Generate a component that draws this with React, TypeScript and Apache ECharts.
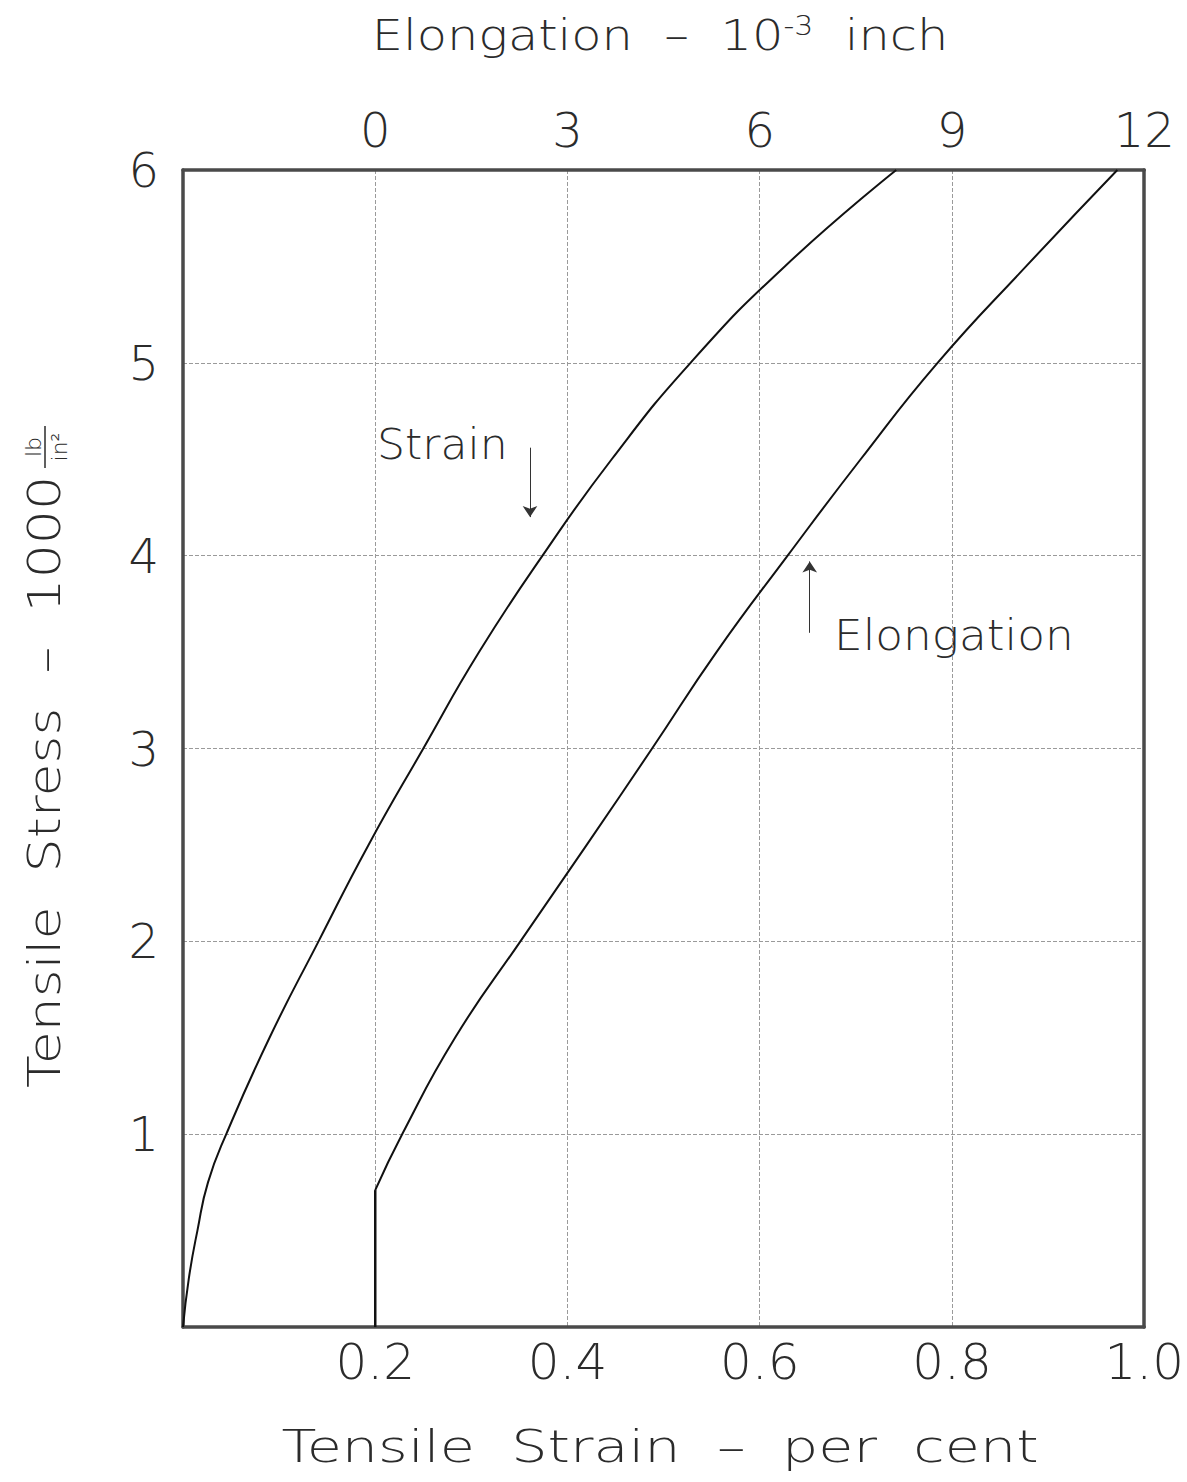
import React, { useEffect, useRef } from "react";
import * as echarts from "echarts";

// Tensile strain (per cent) vs tensile stress (1000 lb/in^2)
const strainCurve: [number, number][] = [
  [0.0, 0.0], [0.006, 0.25], [0.015, 0.5], [0.026, 0.75], [0.045, 1.0],
  [0.09, 1.5], [0.141, 2.0], [0.193, 2.5], [0.25, 3.0], [0.308, 3.5],
  [0.374, 4.0], [0.446, 4.5], [0.528, 5.0], [0.626, 5.5], [0.742, 6.0],
];
// Elongation curve plotted against the bottom strain scale (its zero sits at 0.2)
const elongationVertical: [number, number][] = [[0.2, 0.0], [0.2, 0.71]];
const elongationCurve: [number, number][] = [
  [0.2, 0.71], [0.228, 1.0], [0.283, 1.5], [0.351, 2.0], [0.42, 2.5],
  [0.488, 3.0], [0.555, 3.5], [0.629, 4.0], [0.705, 4.5], [0.785, 5.0],
  [0.877, 5.5], [0.972, 6.0],
];
const strainArrow: [number, number][] = [[0.361, 4.56], [0.361, 4.2]];
const elongationArrow: [number, number][] = [[0.652, 3.6], [0.652, 3.97]];

const FONT = "DejaVu Sans";
const INK = "#2b2b2b";

export default function App() {
  const ref = useRef<HTMLDivElement>(null);
  useEffect(() => {
    if (!ref.current) return;
    const chart = echarts.init(ref.current, undefined, { renderer: "svg" });
    const frame = { show: true, onZero: false, lineStyle: { color: "#4a4a4a", width: 3.5 } };
    const grid = { show: true, lineStyle: { color: "#9a9a9a", width: 1, type: "dashed" as const } };
    const tickLabel = { color: INK, fontFamily: FONT, fontWeight: 200 as any, fontSize: 48 };
    const arrowLine = (pts: [number, number][]) => ({
      silent: true, symbol: ["none", "arrow"], symbolSize: 11,
      label: { show: false },
      lineStyle: { color: "#333", width: 1, type: "solid" },
      data: [[{ coord: pts[0] }, { coord: pts[1] }]],
    });
    chart.setOption({
      animation: false,
      backgroundColor: "#fff",
      grid: { left: 183, right: 40, top: 170, bottom: 155 },
      xAxis: [
        {
          type: "value", min: 0, max: 1, interval: 0.2, position: "bottom",
          axisLine: frame, axisTick: { show: false }, splitLine: grid,
          axisLabel: { ...tickLabel, fontSize: 50, margin: 10,
            formatter: (v: number) => (v === 0 ? "" : v.toFixed(1)) },
        },
        {
          type: "value", min: -3, max: 12, interval: 3, position: "top",
          axisLine: frame, axisTick: { show: false }, splitLine: { show: false },
          axisLabel: { ...tickLabel, margin: 16,
            formatter: (v: number) => (v < 0 ? "" : String(v)) },
        },
      ],
      yAxis: [
        {
          type: "value", min: 0, max: 6, interval: 1, position: "left",
          axisLine: frame, axisTick: { show: false }, splitLine: grid,
          axisLabel: { ...tickLabel, margin: 24,
            formatter: (v: number) => (v === 0 ? "" : String(v)) },
        },
        {
          type: "value", min: 0, max: 6, interval: 1, position: "right",
          axisLine: frame, axisTick: { show: false }, splitLine: { show: false },
          axisLabel: { show: false },
        },
      ],
      series: [
        {
          name: "Strain", type: "line", data: strainCurve, smooth: 0.5,
          showSymbol: false, lineStyle: { color: "#111", width: 2 },
          markLine: arrowLine(strainArrow),
        },
        {
          name: "ElongationStart", type: "line", data: elongationVertical,
          showSymbol: false, lineStyle: { color: "#111", width: 2.5 },
        },
        {
          name: "Elongation", type: "line", data: elongationCurve, smooth: 0.5,
          showSymbol: false, lineStyle: { color: "#111", width: 2 },
          markLine: arrowLine(elongationArrow),
        },
      ],
      graphic: [
        {
          type: "text", x: 660, y: 35, scaleX: 1.15,
          style: {
            text: "Elongation  –  10{sup|-3}  inch",
            font: `200 43px "${FONT}"`, fill: INK,
            align: "center", verticalAlign: "middle",
            rich: { sup: { fontSize: 26, fontFamily: FONT, fontWeight: 200 as any, fill: INK, verticalAlign: "top", padding: [0, 0, 18, 0] } },
          },
        },
        {
          type: "text", x: 660, y: 1447, scaleX: 1.3,
          style: {
            text: "Tensile  Strain  –  per  cent",
            font: `200 44px "${FONT}"`, fill: INK,
            align: "center", verticalAlign: "middle",
          },
        },
        {
          type: "text", x: 377, y: 444, scaleX: 1.05,
          style: { text: "Strain", font: `200 42px "${FONT}"`, fill: INK, align: "left", verticalAlign: "middle" },
        },
        {
          type: "text", x: 834, y: 635, scaleX: 1.08,
          style: { text: "Elongation", font: `200 42px "${FONT}"`, fill: INK, align: "left", verticalAlign: "middle" },
        },
        {
          type: "group", x: 45, y: 1088, rotation: Math.PI / 2,
          children: [
            {
              type: "text", x: 0, y: 0, scaleX: 1.22,
              style: { text: "Tensile  Stress  –  1000", font: `200 44px "${FONT}"`, fill: INK, align: "left", verticalAlign: "middle" },
            },
            {
              type: "text", x: 641, y: -12,
              style: { text: "lb", font: `200 22px "${FONT}"`, fill: INK, align: "center", verticalAlign: "middle" },
            },
            {
              type: "line", shape: { x1: 620, y1: 0, x2: 662, y2: 0 },
              style: { stroke: INK, lineWidth: 1.5 },
            },
            {
              type: "text", x: 641, y: 14,
              style: { text: "in²", font: `200 22px "${FONT}"`, fill: INK, align: "center", verticalAlign: "middle" },
            },
          ],
        },
      ],
    });
    return () => chart.dispose();
  }, []);
  return (
    <div
      ref={ref}
      style={{ position: "absolute", left: 0, top: 0, width: 1187, height: 1482 }}
    />
  );
}
